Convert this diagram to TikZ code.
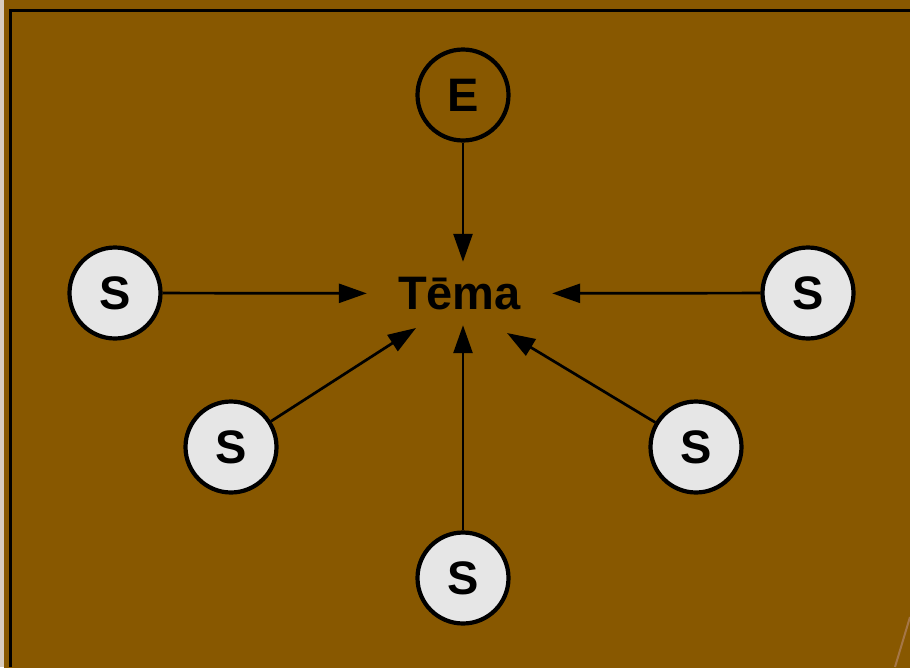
\documentclass[tikz,border=0pt]{standalone}
\usepackage{fontspec}
\setmainfont{Liberation Sans}
\usetikzlibrary{arrows.meta}
\definecolor{bgedge}{RGB}{136,88,0}
\definecolor{bgmid}{RGB}{157,105,0}
\definecolor{discfill}{RGB}{230,230,230}
\definecolor{stripe}{RGB}{216,204,190}
\definecolor{streak}{RGB}{165,118,70}
\tikzset{
  disc/.style={circle, draw=black, line width=4.2pt, fill=discfill,
    minimum size=91pt, inner sep=0pt, font=\fontsize{47}{47}\selectfont\bfseries},
  ring/.style={disc, fill=none},
  topic/.style={rectangle, minimum width=185pt, minimum height=63pt,
    inner sep=0pt, font=\fontsize{47}{47}\selectfont\bfseries},
  link/.style={line width=2.7pt, -{Triangle[length=28pt,width=19pt]}},
}
\begin{document}
\begin{tikzpicture}[x=1pt,y=-1pt]
    \useasboundingbox (0,0) rectangle (910,667);
    % background
    \shade[top color=bgedge, middle color=bgmid, bottom color=bgedge] (4,0) rectangle (910,667);
    \fill[stripe] (0,0) rectangle (4,667);
    \draw[line width=3pt] (10,667) -- (10,10) -- (910,10);
    \draw[streak, line width=2pt] (910,617) -- (895,667);

    \node[topic] (T) at (459.5,293.5) {Tēma};
    \coordinate (TL) at (416,328);
    \coordinate (TR) at (507,333);
    \node[ring] (E) at (463,95) {E};
    \node[disc] (S1) at (115,293) {S};
    \node[disc] (S2) at (808,293) {S};
    \node[disc] (S3) at (231,447) {S};
    \node[disc] (S4) at (696,447) {S};
    \node[disc] (S5) at (463,578) {S};

    \draw[link] (E) -- (E |- T.north);
    \draw[link] (S1) -- (T);
    \draw[link] (S2) -- (T);
    \draw[link] (S3) -- (TL);
    \draw[link] (S4) -- (TR);
    \draw[link] (S5) -- (S5 |- T.south);

\end{tikzpicture}
\end{document}
